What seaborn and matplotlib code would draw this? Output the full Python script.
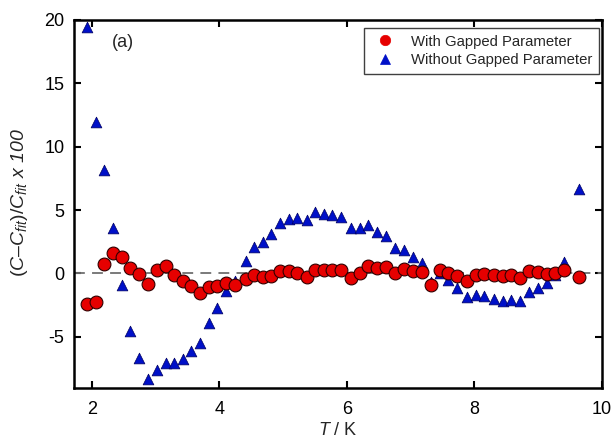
import matplotlib
matplotlib.use("Agg")
import matplotlib.pyplot as plt
import seaborn as sns
import pandas as pd
from matplotlib.lines import Line2D

T = [1.93, 2.06, 2.19, 2.33, 2.47, 2.60, 2.74, 2.88, 3.02, 3.16, 3.29, 3.43, 3.56, 3.70,
     3.83, 3.97, 4.11, 4.25, 4.41, 4.55, 4.68, 4.81, 4.95, 5.09, 5.22, 5.37, 5.50, 5.64,
     5.77, 5.91, 6.06, 6.20, 6.33, 6.47, 6.61, 6.76, 6.90, 7.04, 7.17, 7.32, 7.46, 7.59,
     7.73, 7.88, 8.02, 8.15, 8.30, 8.44, 8.58, 8.72, 8.86, 8.99, 9.13, 9.27, 9.40, 9.64]

with_gap = [-2.45, -2.26, 0.71, 1.63, 1.29, 0.42, -0.03, -0.81, 0.29, 0.61, -0.10, -0.63,
            -1.03, -1.52, -1.08, -1.00, -0.79, -0.95, -0.42, -0.13,
            -0.29, -0.21, 0.18, 0.16, 0.05, -0.29, 0.29, 0.24, 0.26, 0.29, -0.34, 0.02,
            0.58, 0.42, 0.50, 0.05,
            0.32, 0.21, 0.13, -0.89, 0.24, 0.05, -0.24, -0.63, -0.13, -0.03, -0.16, -0.18,
            -0.13, -0.34, 0.18, 0.13, -0.03, 0.02, 0.24, -0.32]

without_gap = [19.44, 11.94, 8.13, 3.58, -0.89, -4.55, -6.68, -8.31, -7.60, -7.05, -7.05,
               -6.79, -6.13, -5.47, -3.92, -2.74, -1.42, -0.63, 0.97, 2.05,
               2.50, 3.13, 4.00, 4.26, 4.37, 4.21, 4.84, 4.68, 4.60, 4.47, 3.55, 3.55,
               3.84, 3.29, 2.95, 2.03,
               1.87, 1.29, 0.81, -0.69, 0.02, -0.55, -1.16, -1.89, -1.68, -1.76, -2.05,
               -2.16, -2.10, -2.16, -1.45, -1.16, -0.73, -0.10, 0.92, 6.68]

labels = ["With Gapped Parameter", "Without Gapped Parameter"]
x_ticks = [2, 4, 6, 8, 10]
y_ticks = [-5, 0, 5, 10, 15, 20]

sns.set_theme(style="white")
plt.rcParams["font.family"] = ["Liberation Sans", "DejaVu Sans"]
plt.rcParams["mathtext.fontset"] = "custom"
plt.rcParams["mathtext.rm"] = "Liberation Sans"
plt.rcParams["mathtext.it"] = "Liberation Sans:italic"
plt.rcParams["axes.unicode_minus"] = False

fig = plt.figure(figsize=(6.14, 4.46), dpi=100)
ax = fig.add_axes([74/614, 1-388/446, (602-74)/614, (388-20)/446])

ax.axhline(0, color="#707070", lw=1.3, ls=(0, (6, 4)), zorder=1)

red = "#e60000"
blue = "#0010c8"
df1 = pd.DataFrame({"T": T, "v": with_gap})
df2 = pd.DataFrame({"T": T, "v": without_gap})
sns.scatterplot(data=df2, x="T", y="v", marker="^", s=60, color=blue,
                edgecolor="#000060", linewidth=0.5, ax=ax, zorder=3, legend=False)
sns.scatterplot(data=df1, x="T", y="v", marker="o", s=85, color=red,
                edgecolor="#300000", linewidth=0.8, ax=ax, zorder=4, legend=False)

ax.set_xlim(1.72, 10)
ax.set_ylim(-9.05, 20)
ax.set_xticks(x_ticks)
ax.set_yticks(y_ticks)
ax.tick_params(direction="in", length=5, width=1.5, labelsize=13, colors="black",
               top=True, right=True, bottom=True, left=True, pad=7)
ax.tick_params(axis="x", pad=9)
for s in ax.spines.values():
    s.set_linewidth(1.8)
    s.set_color("black")
    s.set_visible(True)

ax.set_xlabel("$T$ / K", fontsize=13, labelpad=3)
ax.set_ylabel("")
fig.text(20/614, 1-203/446, r"$\mathit{(C}$–$\mathit{C_{fit})/C_{fit}}$ x 100",
         rotation=90, ha="center", va="center", fontsize=14, style="italic")

ax.text(0.072, 0.94, "(a)", transform=ax.transAxes, fontsize=13, ha="left", va="center")

handles = [Line2D([], [], ls="", marker="o", markersize=7.5, markerfacecolor=red,
                  markeredgecolor=red, markeredgewidth=0.5),
           Line2D([], [], ls="", marker="^", markersize=6.5, markerfacecolor=blue,
                  markeredgecolor=blue, markeredgewidth=0.5)]
leg = ax.legend(handles, labels, loc="upper right",
                bbox_to_anchor=((599-74)/528, (388-28)/368), borderaxespad=0,
                fontsize=10.7, frameon=True, fancybox=False, framealpha=1,
                edgecolor="#404040", handletextpad=0.79, labelspacing=0.32,
                borderpad=0.45, handlelength=1.92)
leg.get_frame().set_linewidth(1.0)

fig.savefig("out.png", dpi=100)
